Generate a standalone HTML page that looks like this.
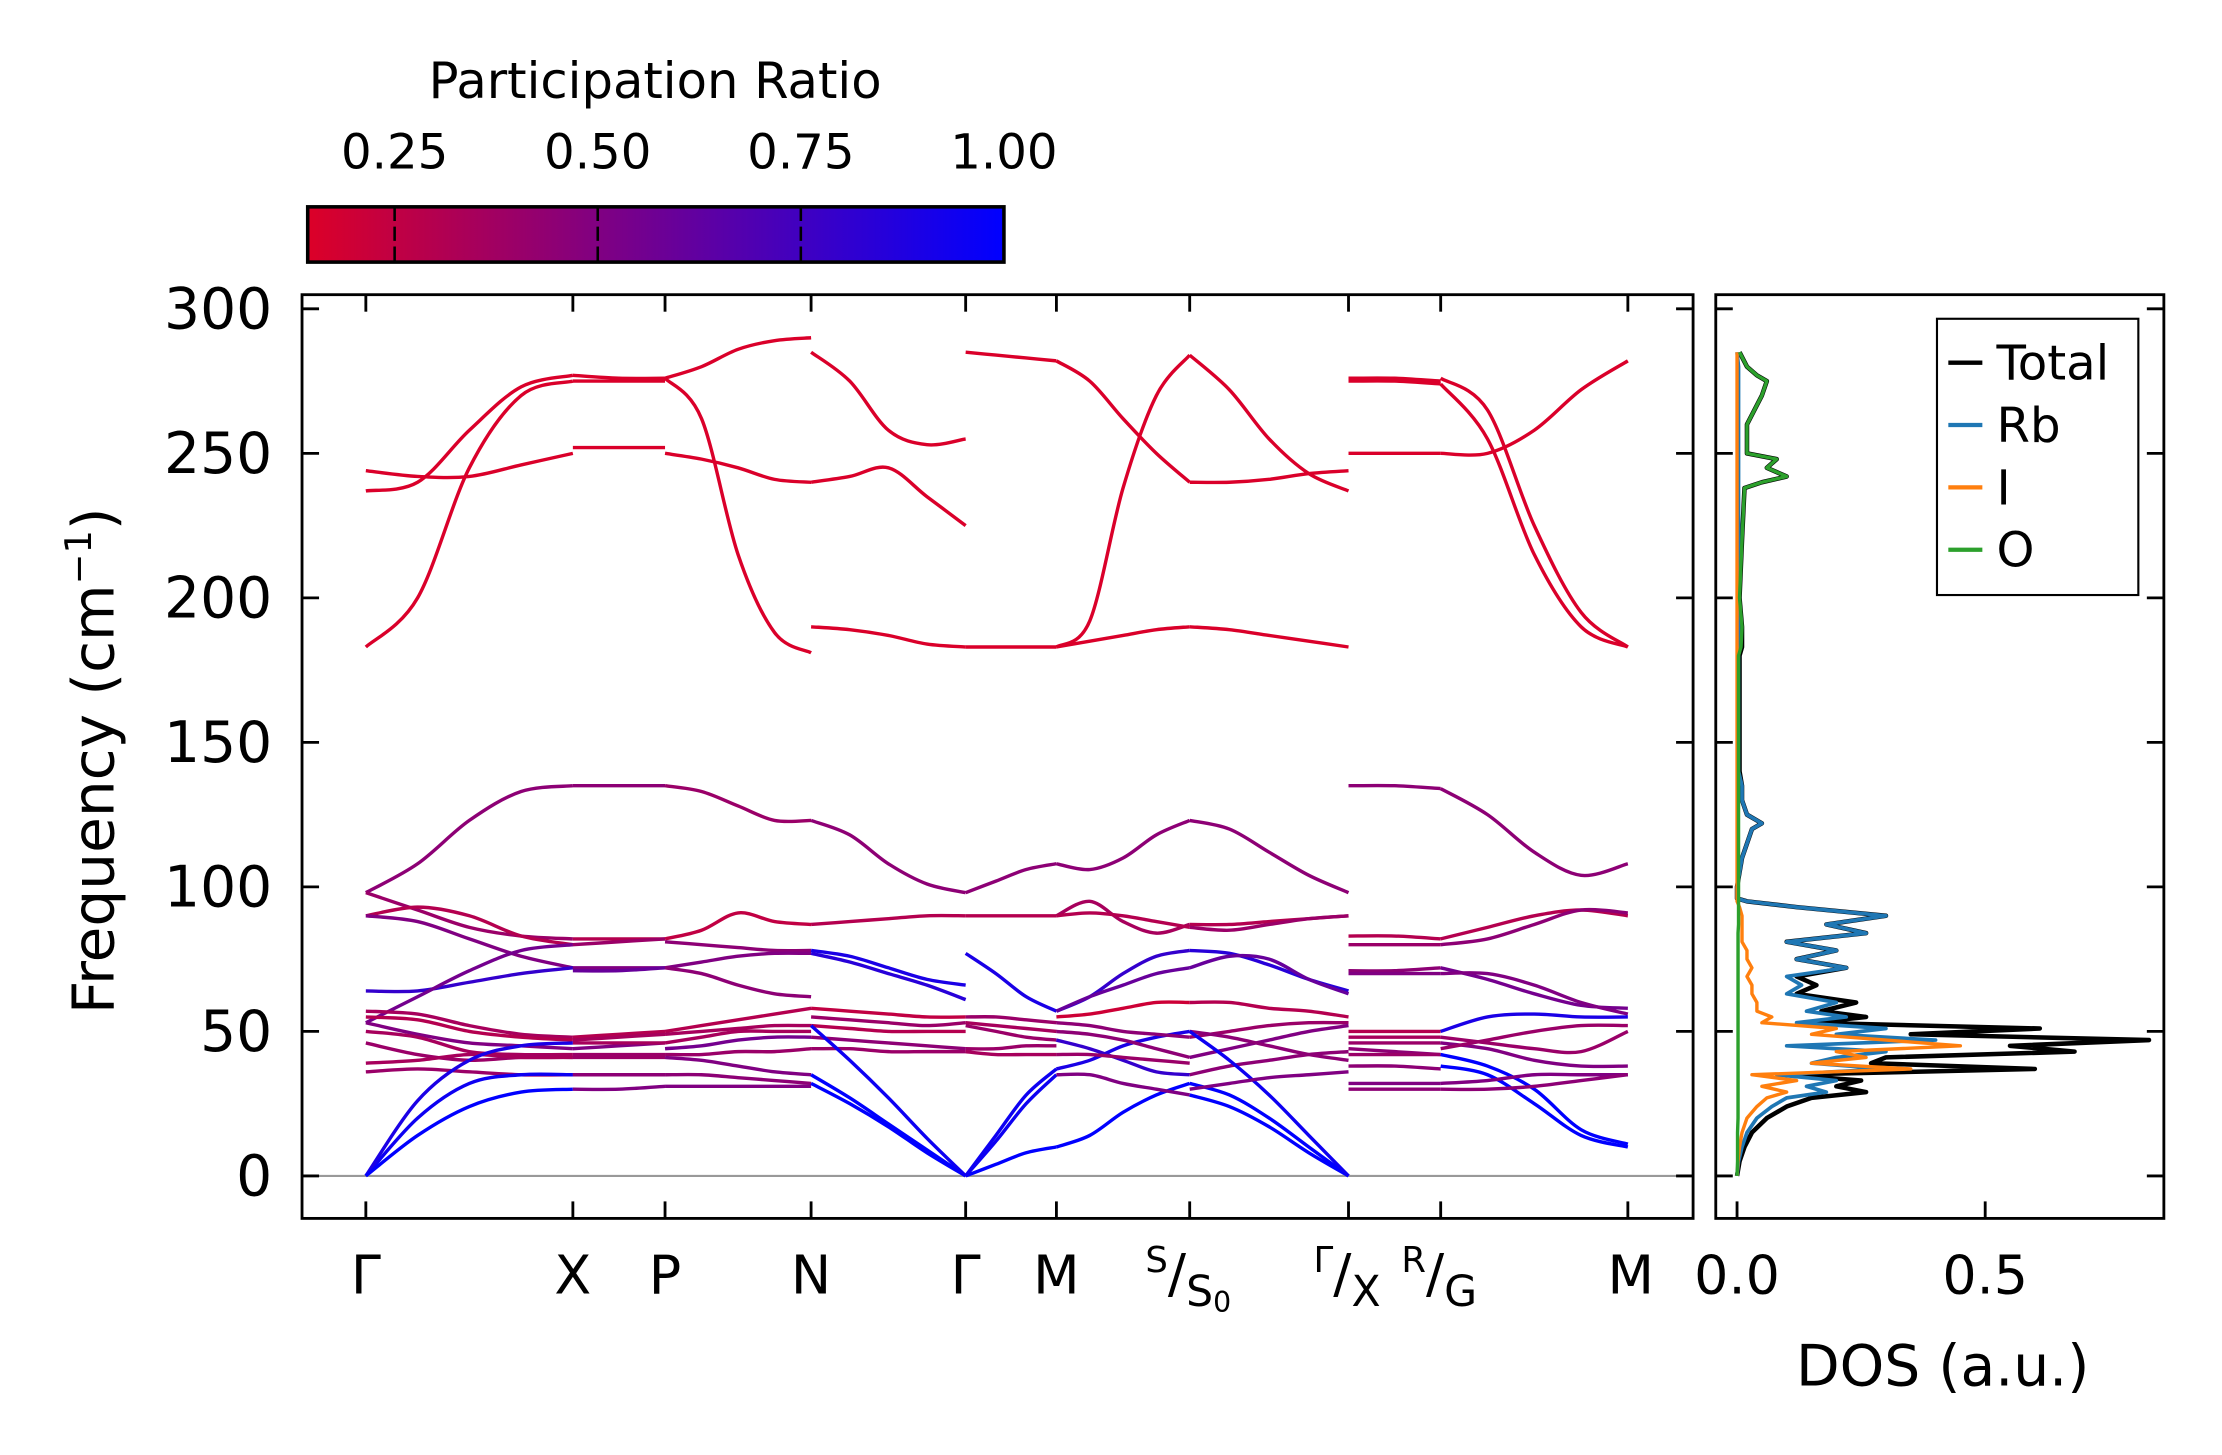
<!DOCTYPE html>
<html><head><meta charset="utf-8"><style>
html,body{margin:0;padding:0;background:#fff}
svg{display:block}
text{font-family:"DejaVu Sans","Liberation Sans",sans-serif;fill:#000}
</style></head><body>
<svg id="fig" width="2222" height="1455" viewBox="0 0 1567 1027" preserveAspectRatio="none" xmlns="http://www.w3.org/2000/svg">
<defs><linearGradient id="cg" x1="0" x2="1" y1="0" y2="0"><stop offset="0" stop-color="rgb(220,0,40)"/><stop offset="1" stop-color="rgb(0,0,255)"/></linearGradient></defs>
<g>
<text x="462" y="69" font-size="35" text-anchor="middle">Participation Ratio</text>
<rect x="217" y="146" width="491" height="39" fill="url(#cg)" stroke="#000" stroke-width="2.5"/>
<g id="cbticks"></g>
</g>
<g id="main"></g>
<g id="dos"></g>
</svg>
<script>
const cbTicks=[0.25,0.5,0.75,1.0];
const cbLabels=["0.25","0.50","0.75","1.00"];
const yTicks=[0,50,100,150,200,250,300];
const kLabelPos=[258,404,469,572,681,745,839,951,1016,1148];
const segBounds=[[258,404],[404,469],[469,572],[572,681],[681,745],[745,839],[839,951],[951,1016],[1016,1148]];
const seg0=[[183,200,245,270,275],[237,240,258,273,277],[244,242,242,246,250],[98,108,123,133,135],[98,92,86,83,82],[90,93,90,83,80],[90,88,82,76,72],[64,64,67,70,72],[53,62,71,78,80],[57,56,52,49,48],[55,54,50,48,47],[53,49,46,45,44],[50,48,43,42,42],[46,42,40,41,41],[39,40,42,41,41],[36,37,36,35,35],[0,20,32,35,35],[0,26,40,45,46],[0,14,24,29,30]];
const pr0=[.15,.15,.15,.45,.4,.3,.5,.8,.55,.35,.3,.5,.35,.4,.35,.4,.95,.9,1];
const seg1=[[277,276,276],[275,275,275],[252,252,252],[135,135,135],[82,82,82],[80,81,82],[72,72,72],[71,71,72],[48,49,50],[47,48,49],[44,45,46],[42,42,42],[41,41,41],[35,35,35],[30,30,31],[46,46,46]];
const pr1=[.15,.15,.15,.45,.3,.4,.5,.6,.3,.35,.5,.4,.4,.45,.5,.35];
const seg2=[[276,280,286,289,290],[276,262,215,188,181],[250,248,245,241,240],[135,133,128,123,123],[82,85,91,88,87],[81,80,79,78,78],[72,74,76,77,77],[72,70,66,63,62],[50,52,54,56,58],[49,50,51,52,52],[44,45,47,48,48],[42,42,43,43,44],[41,40,38,36,35],[35,35,34,33,32],[31,31,31,31,31],[46,48,50,50,50]];
const pr2=[.15,.15,.15,.4,.25,.45,.5,.45,.3,.35,.55,.4,.5,.45,.5,.35];
const seg3=[[285,275,258,253,255],[240,242,245,235,225],[190,189,187,184,183],[123,118,108,101,98],[87,88,89,90,90],[78,76,72,68,66],[77,74,70,66,61],[58,57,56,55,55],[55,54,53,52,53],[52,51,50,50,50],[48,47,46,45,44],[44,44,43,43,43],[35,27,18,9,0],[32,25,17,8,0],[52,40,27,13,0]];
const pr3=[.15,.15,.15,.45,.3,.9,.85,.25,.4,.3,.45,.4,1,1,.95];
const seg4=[[285,284,283,282],[183,183,183,183],[98,102,106,108],[90,90,90,90],[77,70,62,57],[0,4,8,10],[0,14,28,37],[0,12,25,35],[55,55,54,53],[53,52,51,50],[52,50,48,47],[44,44,45,45],[43,42,42,42]];
const pr4=[.15,.15,.45,.3,.9,1,.95,.95,.4,.35,.4,.4,.35];
const seg5=[[282,275,262,250,240],[183,192,238,270,284],[183,185,187,189,190],[108,106,110,118,123],[90,95,88,84,87],[90,91,90,88,86],[57,62,70,76,78],[57,62,66,70,72],[10,14,22,28,32],[37,40,45,48,50],[55,56,58,60,60],[53,52,50,49,48],[50,49,47,44,41],[47,44,40,36,35],[42,42,41,40,39],[35,35,32,30,28]];
const pr5=[.15,.15,.15,.45,.35,.3,.8,.6,1,.9,.2,.45,.45,.8,.4,.5];
const seg6=[[284,272,255,243,237],[240,240,241,243,244],[190,189,187,185,183],[123,120,112,104,98],[87,87,88,89,90],[86,85,87,89,90],[78,77,73,68,64],[72,76,75,68,63],[60,60,58,57,55],[48,50,52,53,53],[41,44,47,50,52],[50,48,45,42,40],[35,38,40,42,43],[32,28,20,10,0],[28,24,17,8,0],[50,40,28,14,0],[30,32,34,35,36]];
const pr6=[.15,.15,.15,.45,.3,.4,.85,.6,.3,.4,.5,.45,.45,1,1,.95,.5];
const seg7=[[276,276,275],[275,275,274],[250,250,250],[135,135,134],[83,83,82],[80,80,80],[71,71,72],[70,70,70],[50,50,50],[48,48,48],[46,46,46],[44,43,42],[42,42,42],[38,38,37],[32,32,32],[30,30,30]];
const pr7=[.15,.15,.15,.45,.3,.4,.45,.5,.3,.35,.4,.45,.4,.45,.5,.45];
const seg8=[[276,265,225,195,183],[274,255,215,190,183],[250,250,258,272,282],[134,125,112,104,108],[82,86,90,92,90],[80,82,87,92,91],[72,68,63,59,58],[70,70,66,60,56],[50,55,56,55,55],[48,46,44,43,50],[46,44,40,38,38],[44,47,50,52,52],[38,35,25,14,10],[42,38,30,16,11],[32,33,35,35,35],[30,30,31,33,35]];
const pr8=[.15,.15,.15,.45,.3,.45,.55,.5,.9,.4,.5,.4,1,1,.5,.45];
const segData=[seg0,seg1,seg2,seg3,seg4,seg5,seg6,seg7,seg8];
const segPR=[pr0,pr1,pr2,pr3,pr4,pr5,pr6,pr7,pr8];

const dosFreq=[0,5,10,15,20,24,27,29,31,33,35,37,39,41,43,45,47,49,51,53,55,57,60,63,66,69,72,75,78,81,84,87,90,93,95,96,100,110,120,122,125,130,135,140,150,170,180,183,190,200,220,238,240,242,245,248,250,260,270,275,277,280,285];
const dosTotal=[0,.005,.015,.03,.06,.1,.15,.26,.2,.25,.1,.6,.27,.3,.68,.55,.83,.35,.61,.15,.26,.17,.24,.12,.16,.12,.22,.12,.2,.1,.26,.18,.3,.12,.02,0,0,.01,.03,.05,.02,.01,.01,.005,.005,.005,.005,.01,.01,.005,.01,.015,.05,.1,.06,.08,.02,.02,.05,.06,.04,.02,.005];
const dosRb=[0,.003,.01,.02,.04,.07,.1,.18,.14,.2,.08,.3,.15,.2,.3,.1,.4,.2,.3,.12,.22,.14,.2,.1,.13,.1,.22,.12,.2,.1,.26,.18,.3,.12,.02,0,0,.01,.03,.05,.02,.01,.01,.003,.003,.003,.003,.003,.003,.003,.003,.003,.003,.003,.003,.003,.003,.003,.003,.003,.003,.003,0];
const dosI=[0,.002,.005,.01,.02,.04,.06,.1,.05,.12,.03,.35,.15,.26,.2,.45,.3,.15,.2,.05,.07,.04,.04,.03,.03,.02,.03,.02,.02,.01,.01,.01,.01,.005,0,0,0,0,0,0,0,0,0,0,0,0,0,0,0,0,0,0,0,0,0,0,0,0,0,0,0,0,0];
const dosO=[0,.001,.001,.001,.002,.002,.002,.002,.002,.002,.002,.002,.002,.002,.002,.002,.002,.002,.002,.002,.002,.002,.002,.002,.002,.002,.002,.002,.002,.002,.002,.003,.003,.003,.003,.003,.003,.003,.003,.003,.003,.003,.003,.003,.003,.003,.003,.008,.01,.005,.01,.015,.05,.1,.06,.08,.02,.02,.05,.06,.04,.02,.005];
const dosXTicks=[0,0.5];
const dosXLabels=["0.0","0.5"];

const NS="http://www.w3.org/2000/svg";
function mk(tag,attrs,parent){const e=document.createElementNS(NS,tag);for(const k in attrs)e.setAttribute(k,attrs[k]);parent.appendChild(e);return e;}
const y0=830, yPer=2.04;
function yS(v){return y0-v*yPer;}
function cbX(v){return 217+(v-0.143)/(1-0.143)*491;}
function prColor(p){let t=Math.max(0,Math.min(1,(p-0.143)/(0.857)));return `rgb(${Math.round(220*(1-t))},0,${Math.round(40+215*t)})`;}
function dX(v){return 1225+v*350;}

const cbt=document.getElementById('cbticks');
cbTicks.forEach((v,i)=>{
  const x=cbX(v);
  if(v<1){const l=mk('line',{x1:x,x2:x,y1:146,y2:185,stroke:'#000','stroke-width':1.8,'stroke-dasharray':'10,4'},cbt);
  
  }
  const t=mk('text',{x:x,y:119,'font-size':34,'text-anchor':'middle'},cbt);t.textContent=cbLabels[i];
  
  
});

const main=document.getElementById('main');
mk('line',{x1:213,x2:1194,y1:y0,y2:y0,stroke:'#999','stroke-width':1.5},main);
function smoothPath(xs,ys){
  let d=`M${xs[0]},${ys[0]}`;
  for(let i=0;i<xs.length-1;i++){
    const p0=[xs[Math.max(0,i-1)],ys[Math.max(0,i-1)]],p1=[xs[i],ys[i]],p2=[xs[i+1],ys[i+1]],p3=[xs[Math.min(xs.length-1,i+2)],ys[Math.min(xs.length-1,i+2)]];
    const c1=[p1[0]+(p2[0]-p0[0])/6,p1[1]+(p2[1]-p0[1])/6],c2=[p2[0]-(p3[0]-p1[0])/6,p2[1]-(p3[1]-p1[1])/6];
    d+=` C${c1[0]},${c1[1]} ${c2[0]},${c2[1]} ${p2[0]},${p2[1]}`;
  }
  return d;
}
segData.forEach((seg,si)=>{
  const [xa,xb]=segBounds[si];
  seg.forEach((band,bi)=>{
    const n=band.length;
    const xs=band.map((_,j)=>xa+(xb-xa)*j/(n-1));
    const ys=band.map(v=>yS(v));
    const p=mk('path',{d:smoothPath(xs,ys),fill:'none',stroke:prColor(segPR[si][bi]),'stroke-width':2.4},main);
    
    
  });
});
const fr=mk('rect',{x:213,y:208,width:981,height:652,fill:'none',stroke:'#000','stroke-width':2},main);


yTicks.forEach(v=>{
  const y=yS(v);
  mk('line',{x1:213,x2:225,y1:y,y2:y,stroke:'#000','stroke-width':2},main);
  mk('line',{x1:1182,x2:1194,y1:y,y2:y,stroke:'#000','stroke-width':2},main);
  mk('line',{x1:1210,x2:1222,y1:y,y2:y,stroke:'#000','stroke-width':2},main);
  mk('line',{x1:1514,x2:1526,y1:y,y2:y,stroke:'#000','stroke-width':2},main);
  const t=mk('text',{x:192,y:y+14,'font-size':40,'text-anchor':'end'},main);t.textContent=v;
  
  
});
kLabelPos.forEach(x=>{
  mk('line',{x1:x,x2:x,y1:208,y2:220,stroke:'#000','stroke-width':2},main);
  mk('line',{x1:x,x2:x,y1:848,y2:860,stroke:'#000','stroke-width':2},main);
});
const kl=[["Γ",258],["X",404],["P",469],["N",572],["Γ",681],["M",745],["M",1150]];
kl.forEach(([s,x])=>{const t=mk('text',{x:x,y:913,'font-size':38,'text-anchor':'middle'},main);t.textContent=s;
  
  });
const frac=[["S","S","0",852],["Γ","X","",964],["R","G","",1029]];
frac.forEach(([a,b,c,x])=>{
  const t=mk('text',{x:x-4,y:912,'font-size':38,'text-anchor':'middle'},main);
  t.innerHTML=`<tspan font-size="25" dy="-14" dx="-10">${a}</tspan><tspan dy="14">/</tspan><tspan font-size="30" dy="10">${b}</tspan>`+(c?`<tspan font-size="20" dy="4">${c}</tspan>`:'');
  
  
});
const yl=mk('text',{x:0,y:0,'font-size':41,'text-anchor':'middle',transform:'translate(80,537) rotate(-90)'},main);
yl.innerHTML='Frequency (cm<tspan font-size="26" dy="-16">−1</tspan><tspan dy="16">)</tspan>';



const dos=document.getElementById('dos');
function dosPath(vals){return dosFreq.map((f,i)=>(i?'L':'M')+dX(vals[i])+','+yS(f)).join(' ');}
[[dosTotal,'#000',3.2,'dos-total'],[dosRb,'#1f77b4',2.6,'dos-rb'],[dosI,'#ff7f0e',2.4,'dos-i'],[dosO,'#2ca02c',2.4,'dos-o']].forEach(([v,c,w,n])=>{
  const p=mk('path',{d:dosPath(v),fill:'none',stroke:c,'stroke-width':w,'stroke-linejoin':'round'},dos);
  
  
});
const df=mk('rect',{x:1210,y:208,width:316,height:652,fill:'none',stroke:'#000','stroke-width':2},dos);


dosXTicks.forEach((v,i)=>{
  const x=dX(v);
  mk('line',{x1:x,x2:x,y1:848,y2:860,stroke:'#000','stroke-width':2},dos);
  const t=mk('text',{x:x,y:913,'font-size':38,'text-anchor':'middle'},dos);t.textContent=dosXLabels[i];
  
  
});
const dt=mk('text',{x:1370,y:978,'font-size':40,'text-anchor':'middle'},dos);dt.textContent='DOS (a.u.)';


const lg=mk('g',{},dos);


mk('rect',{x:1366,y:225,width:142,height:195,fill:'#fff',stroke:'#000','stroke-width':1.5},lg);
[["Total",'#000'],["Rb",'#1f77b4'],["I",'#ff7f0e'],["O",'#2ca02c']].forEach(([s,c],i)=>{
  const y=256+i*44;
  mk('line',{x1:1374,x2:1398,y1:y,y2:y,stroke:c,'stroke-width':3},lg);
  const t=mk('text',{x:1408,y:y+12,'font-size':34},lg);t.textContent=s;
  
  
});
</script>
</body></html>
